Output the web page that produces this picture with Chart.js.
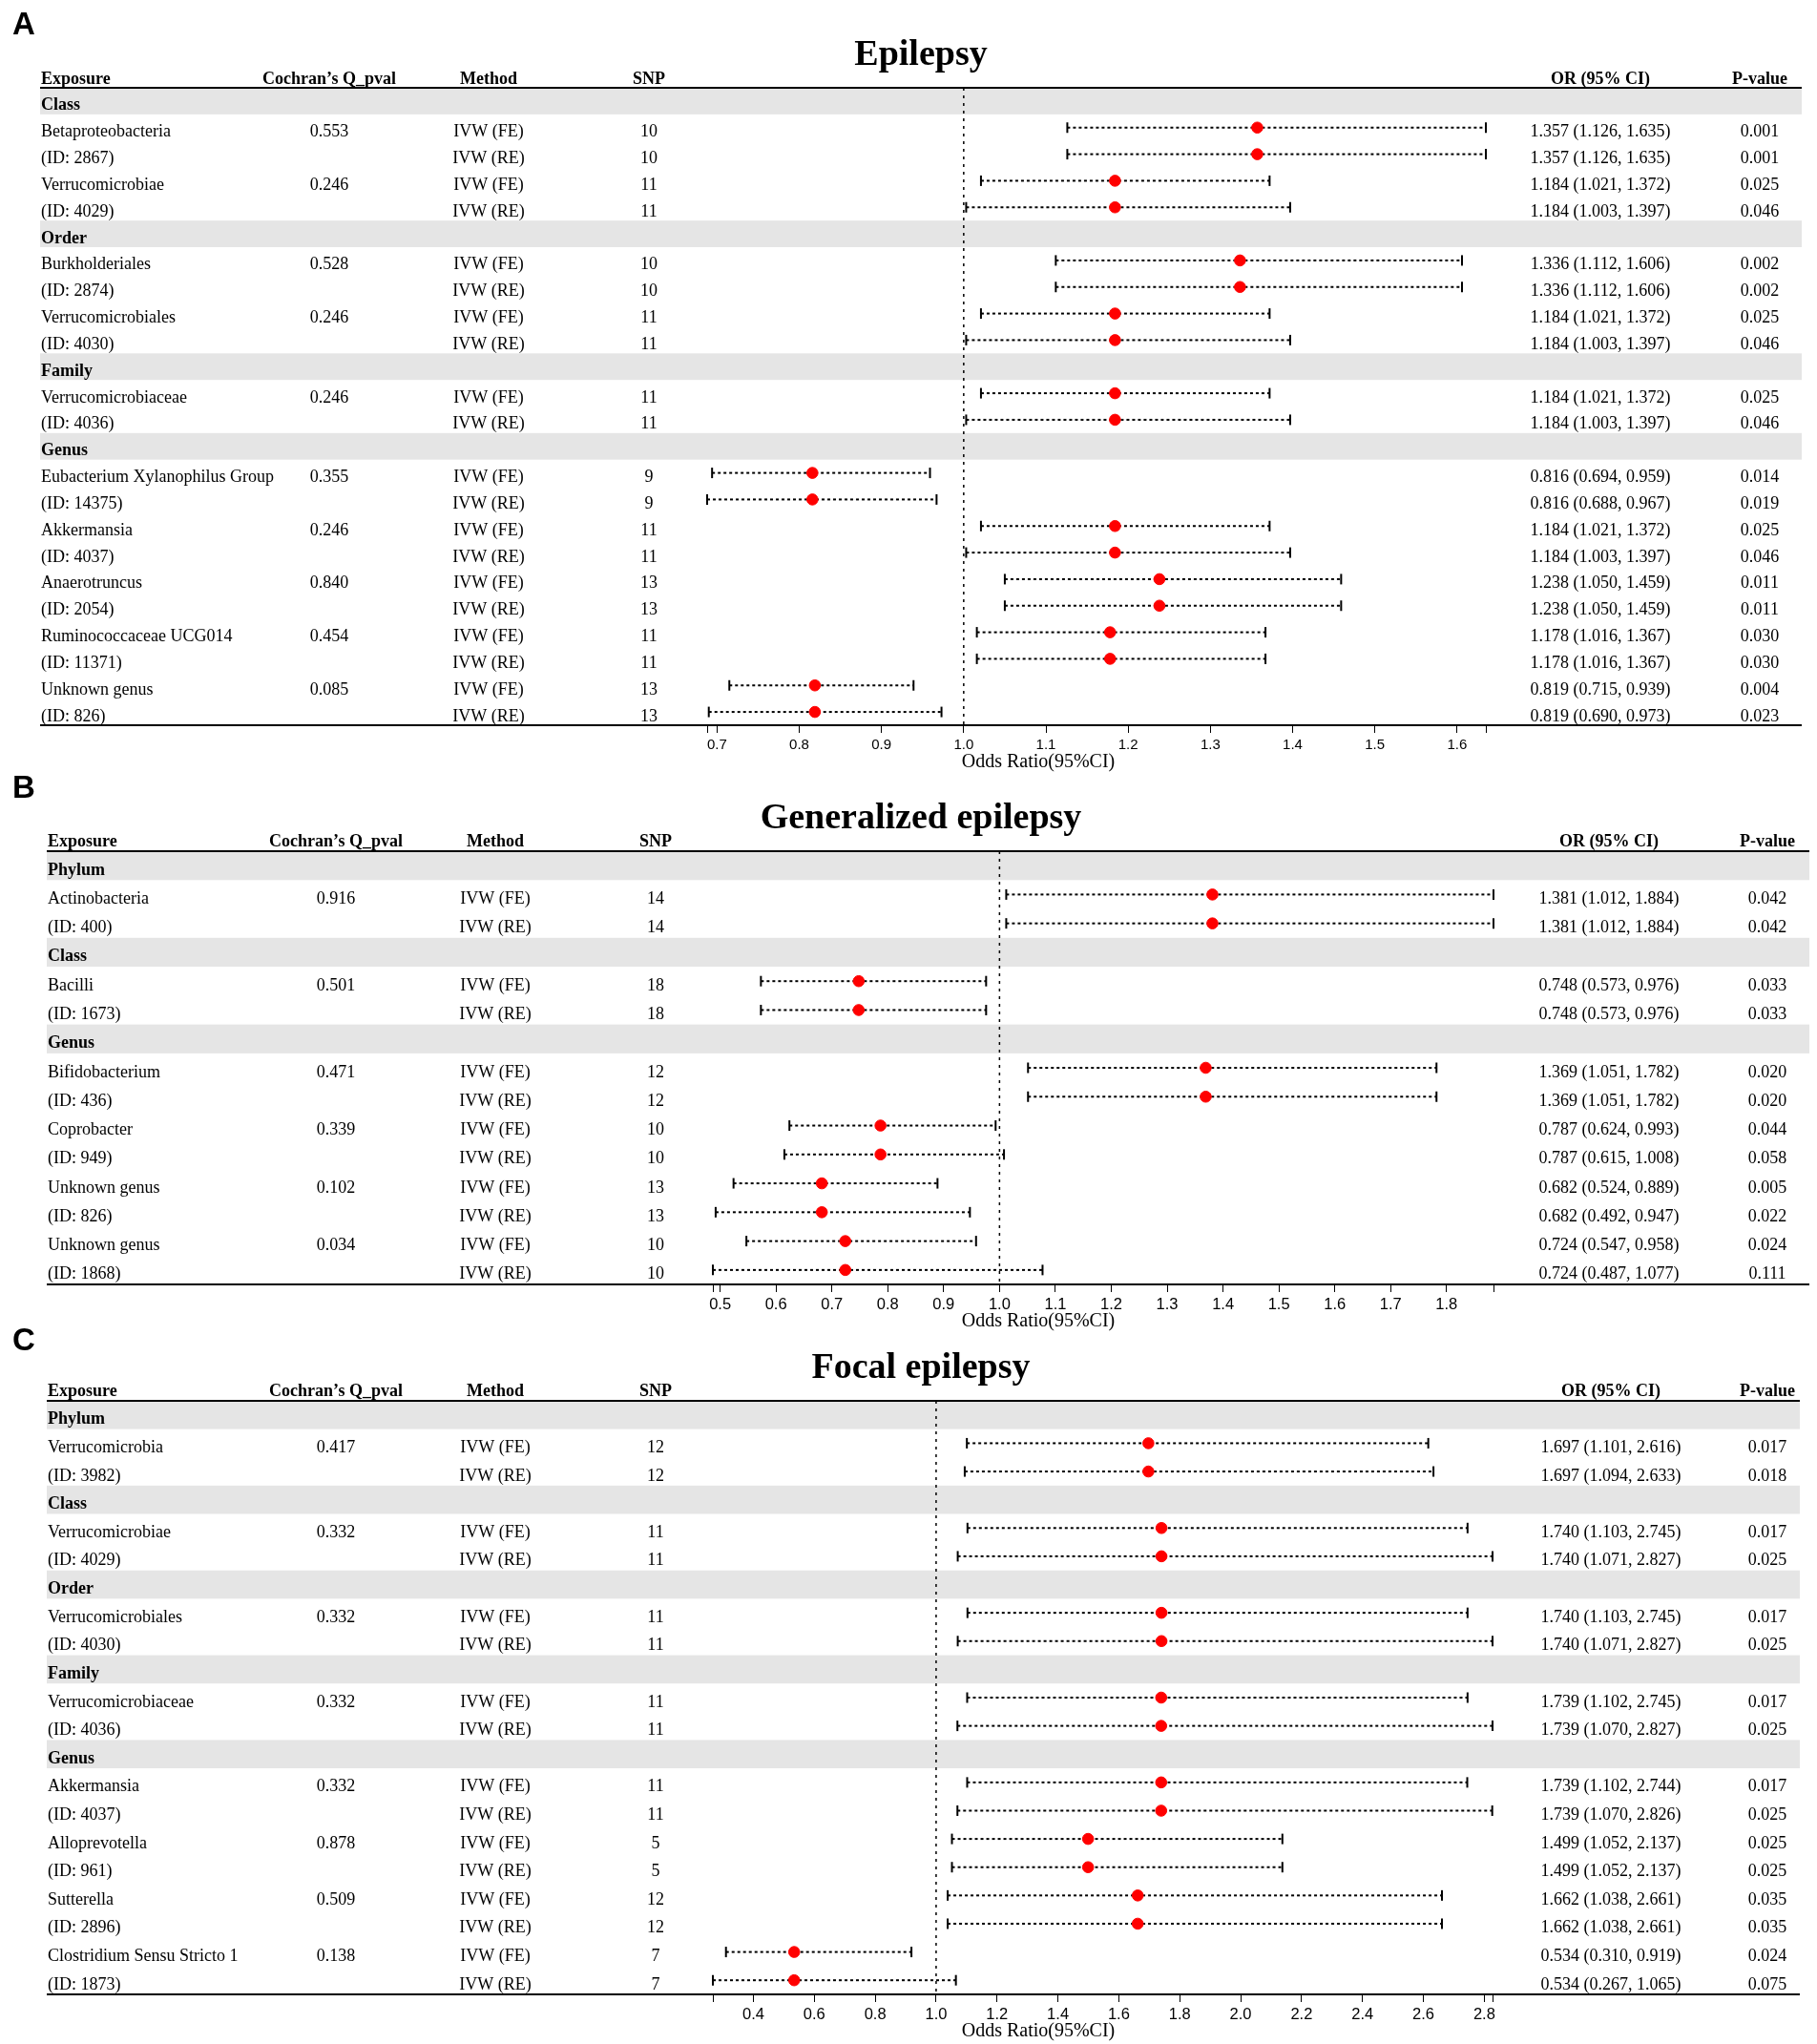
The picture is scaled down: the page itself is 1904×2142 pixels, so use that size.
<!DOCTYPE html>
<html>
<head>
<meta charset="utf-8">
<script src="https://cdn.jsdelivr.net/npm/chart.js@4.4.1/dist/chart.umd.min.js"></script>
<style>
html, body { margin: 0; padding: 0; background: #fff; }
body { width: 1904px; height: 2142px; position: relative; overflow: hidden; }
.panel { position: absolute; left: 0; }
</style>
</head>
<body>
<div class="panel" style="top:0px"><canvas id="epi" width="1904" height="810"></canvas></div>
<div class="panel" style="top:790px"><canvas id="gen" width="1904" height="610"></canvas></div>
<div class="panel" style="top:1370px"><canvas id="foc" width="1904" height="772"></canvas></div>
<script>
// ---- A: Epilepsy ----
const epiExposure = ['Class', 'Betaproteobacteria', '(ID: 2867)', 'Verrucomicrobiae', '(ID: 4029)',
    'Order', 'Burkholderiales', '(ID: 2874)', 'Verrucomicrobiales', '(ID: 4030)',
    'Family', 'Verrucomicrobiaceae', '(ID: 4036)',
    'Genus', 'Eubacterium Xylanophilus Group', '(ID: 14375)', 'Akkermansia', '(ID: 4037)',
    'Anaerotruncus', '(ID: 2054)', 'Ruminococcaceae UCG014', '(ID: 11371)', 'Unknown genus', '(ID: 826)'];
const epiQ = ['', '0.553', '', '0.246', '', '', '0.528', '', '0.246', '', '', '0.246', '',
    '', '0.355', '', '0.246', '', '0.840', '', '0.454', '', '0.085', ''];
const epiMethod = ['', 'IVW (FE)', 'IVW (RE)', 'IVW (FE)', 'IVW (RE)', '', 'IVW (FE)', 'IVW (RE)', 'IVW (FE)', 'IVW (RE)',
    '', 'IVW (FE)', 'IVW (RE)', '', 'IVW (FE)', 'IVW (RE)', 'IVW (FE)', 'IVW (RE)', 'IVW (FE)', 'IVW (RE)',
    'IVW (FE)', 'IVW (RE)', 'IVW (FE)', 'IVW (RE)'];
const epiSnp = ['', '10', '10', '11', '11', '', '10', '10', '11', '11', '', '11', '11',
    '', '9', '9', '11', '11', '13', '13', '11', '11', '13', '13'];
const epiOR = [null, 1.357, 1.357, 1.184, 1.184, null, 1.336, 1.336, 1.184, 1.184, null, 1.184, 1.184,
    null, 0.816, 0.816, 1.184, 1.184, 1.238, 1.238, 1.178, 1.178, 0.819, 0.819];
const epiLow = [null, 1.126, 1.126, 1.021, 1.003, null, 1.112, 1.112, 1.021, 1.003, null, 1.021, 1.003,
    null, 0.694, 0.688, 1.021, 1.003, 1.050, 1.050, 1.016, 1.016, 0.715, 0.690];
const epiHigh = [null, 1.635, 1.635, 1.372, 1.397, null, 1.606, 1.606, 1.372, 1.397, null, 1.372, 1.397,
    null, 0.959, 0.967, 1.372, 1.397, 1.459, 1.459, 1.367, 1.367, 0.939, 0.973];
const epiP = ['', '0.001', '0.001', '0.025', '0.046', '', '0.002', '0.002', '0.025', '0.046', '', '0.025', '0.046',
    '', '0.014', '0.019', '0.025', '0.046', '0.011', '0.011', '0.030', '0.030', '0.004', '0.023'];
const epiTicks = [0.7, 0.8, 0.9, 1.0, 1.1, 1.2, 1.3, 1.4, 1.5, 1.6];

// ---- B: Generalized epilepsy ----
const genExposure = ['Phylum', 'Actinobacteria', '(ID: 400)', 'Class', 'Bacilli', '(ID: 1673)',
    'Genus', 'Bifidobacterium', '(ID: 436)', 'Coprobacter', '(ID: 949)', 'Unknown genus', '(ID: 826)',
    'Unknown genus', '(ID: 1868)'];
const genQ = ['', '0.916', '', '', '0.501', '', '', '0.471', '', '0.339', '', '0.102', '', '0.034', ''];
const genMethod = ['', 'IVW (FE)', 'IVW (RE)', '', 'IVW (FE)', 'IVW (RE)', '', 'IVW (FE)', 'IVW (RE)',
    'IVW (FE)', 'IVW (RE)', 'IVW (FE)', 'IVW (RE)', 'IVW (FE)', 'IVW (RE)'];
const genSnp = ['', '14', '14', '', '18', '18', '', '12', '12', '10', '10', '13', '13', '10', '10'];
const genOR = [null, 1.381, 1.381, null, 0.748, 0.748, null, 1.369, 1.369, 0.787, 0.787, 0.682, 0.682, 0.724, 0.724];
const genLow = [null, 1.012, 1.012, null, 0.573, 0.573, null, 1.051, 1.051, 0.624, 0.615, 0.524, 0.492, 0.547, 0.487];
const genHigh = [null, 1.884, 1.884, null, 0.976, 0.976, null, 1.782, 1.782, 0.993, 1.008, 0.889, 0.947, 0.958, 1.077];
const genP = ['', '0.042', '0.042', '', '0.033', '0.033', '', '0.020', '0.020', '0.044', '0.058', '0.005', '0.022', '0.024', '0.111'];
const genTicks = [0.5, 0.6, 0.7, 0.8, 0.9, 1.0, 1.1, 1.2, 1.3, 1.4, 1.5, 1.6, 1.7, 1.8];

// ---- C: Focal epilepsy ----
const focExposure = ['Phylum', 'Verrucomicrobia', '(ID: 3982)', 'Class', 'Verrucomicrobiae', '(ID: 4029)',
    'Order', 'Verrucomicrobiales', '(ID: 4030)', 'Family', 'Verrucomicrobiaceae', '(ID: 4036)',
    'Genus', 'Akkermansia', '(ID: 4037)', 'Alloprevotella', '(ID: 961)', 'Sutterella', '(ID: 2896)',
    'Clostridium Sensu Stricto 1', '(ID: 1873)'];
const focQ = ['', '0.417', '', '', '0.332', '', '', '0.332', '', '', '0.332', '', '', '0.332', '',
    '0.878', '', '0.509', '', '0.138', ''];
const focMethod = ['', 'IVW (FE)', 'IVW (RE)', '', 'IVW (FE)', 'IVW (RE)', '', 'IVW (FE)', 'IVW (RE)',
    '', 'IVW (FE)', 'IVW (RE)', '', 'IVW (FE)', 'IVW (RE)', 'IVW (FE)', 'IVW (RE)', 'IVW (FE)', 'IVW (RE)',
    'IVW (FE)', 'IVW (RE)'];
const focSnp = ['', '12', '12', '', '11', '11', '', '11', '11', '', '11', '11', '', '11', '11', '5', '5', '12', '12', '7', '7'];
const focOR = [null, 1.697, 1.697, null, 1.740, 1.740, null, 1.740, 1.740, null, 1.739, 1.739,
    null, 1.739, 1.739, 1.499, 1.499, 1.662, 1.662, 0.534, 0.534];
const focLow = [null, 1.101, 1.094, null, 1.103, 1.071, null, 1.103, 1.071, null, 1.102, 1.070,
    null, 1.102, 1.070, 1.052, 1.052, 1.038, 1.038, 0.310, 0.267];
const focHigh = [null, 2.616, 2.633, null, 2.745, 2.827, null, 2.745, 2.827, null, 2.745, 2.827,
    null, 2.744, 2.826, 2.137, 2.137, 2.661, 2.661, 0.919, 1.065];
const focP = ['', '0.017', '0.018', '', '0.017', '0.025', '', '0.017', '0.025', '', '0.017', '0.025',
    '', '0.017', '0.025', '0.025', '0.025', '0.035', '0.035', '0.024', '0.075'];
const focTicks = [0.4, 0.6, 0.8, 1.0, 1.2, 1.4, 1.6, 1.8, 2.0, 2.2, 2.4, 2.6, 2.8];

const SERIF = '"Liberation Serif", "Times New Roman", serif';
const SANS = '"Liberation Sans", Arial, sans-serif';

// layout of each panel (canvas coordinates)
const PANELS = {
    epi: { letter: 'A', title: 'Epilepsy', height: 810, ruleTop: 92, ruleBottom: 760, plotLeft: 741, plotRight: 1557,
        tableLeft: 42, tableRight: 1888, letterY: 36, headShift: 4, tickSize: 15,
        col: { exp: 43, q: 345, method: 512, snp: 680, or: 1677, p: 1844 },
        exposure: epiExposure, q: epiQ, method: epiMethod, snp: epiSnp, or: epiOR, low: epiLow, high: epiHigh, p: epiP, ticks: epiTicks },
    gen: { letter: 'B', title: 'Generalized epilepsy', height: 610, ruleTop: 102, ruleBottom: 556, plotLeft: 747, plotRight: 1565,
        tableLeft: 49, tableRight: 1896, letterY: 46, headShift: 5, tickSize: 16.5,
        col: { exp: 50, q: 352, method: 519, snp: 687, or: 1686, p: 1852 },
        exposure: genExposure, q: genQ, method: genMethod, snp: genSnp, or: genOR, low: genLow, high: genHigh, p: genP, ticks: genTicks },
    foc: { letter: 'C', title: 'Focal epilepsy', height: 772, ruleTop: 98, ruleBottom: 720, plotLeft: 747, plotRight: 1564,
        tableLeft: 49, tableRight: 1886, letterY: 45, headShift: 5, tickSize: 16.5,
        col: { exp: 50, q: 352, method: 519, snp: 687, or: 1688, p: 1852 },
        exposure: focExposure, q: focQ, method: focMethod, snp: focSnp, or: focOR, low: focLow, high: focHigh, p: focP, ticks: focTicks }
};

// draws the table part (bands, text, rules) around the plot column
const forestTable = {
    id: 'forestTable',
    beforeDatasetsDraw(chart) {
        const P = PANELS[chart.canvas.id];
        const ys = chart.scales.y;
        const rowH = Math.abs(ys.getPixelForValue(1) - ys.getPixelForValue(0));
        const ctx = chart.ctx;
        ctx.save();
        ctx.fillStyle = '#e5e5e5';
        P.exposure.forEach((label, i) => {
            if (P.or[i] !== null) return;
            const y = ys.getPixelForValue(i);
            ctx.fillRect(P.tableLeft, y - rowH / 2, P.tableRight - P.tableLeft, rowH);
        });
        ctx.restore();
    },
    afterDraw(chart) {
        const P = PANELS[chart.canvas.id];
        const ys = chart.scales.y;
        const area = chart.chartArea;
        const ctx = chart.ctx;
        ctx.save();
        ctx.fillStyle = '#000';
        ctx.textBaseline = 'alphabetic';

        // panel letter and title
        ctx.font = 'bold 33px ' + SANS;
        ctx.textAlign = 'center';
        ctx.fillText(P.letter, 25, P.letterY);
        ctx.font = 'bold 38px ' + SERIF;
        ctx.fillText(P.title, 965, area.top - 24.5);

        // header
        const hy = area.top - P.headShift;
        ctx.font = 'bold 18px ' + SERIF;
        ctx.textAlign = 'left';
        ctx.fillText('Exposure', P.col.exp, hy);
        ctx.textAlign = 'center';
        ctx.fillText('Cochran\u2019s Q_pval', P.col.q, hy);
        ctx.fillText('Method', P.col.method, hy);
        ctx.fillText('SNP', P.col.snp, hy);
        ctx.fillText('OR (95% CI)', P.col.or, hy);
        ctx.fillText('P-value', P.col.p, hy);

        // rows
        P.exposure.forEach((label, i) => {
            const y = ys.getPixelForValue(i) + 9.5;
            if (P.or[i] === null) {
                ctx.font = 'bold 18px ' + SERIF;
                ctx.textAlign = 'left';
                ctx.fillText(label, P.col.exp, y);
                return;
            }
            ctx.font = '18px ' + SERIF;
            ctx.textAlign = 'left';
            ctx.fillText(label, P.col.exp, y);
            ctx.textAlign = 'center';
            ctx.fillText(P.q[i], P.col.q, y);
            ctx.fillText(P.method[i], P.col.method, y);
            ctx.fillText(P.snp[i], P.col.snp, y);
            const orText = P.or[i].toFixed(3) + ' (' + P.low[i].toFixed(3) + ', ' + P.high[i].toFixed(3) + ')';
            ctx.fillText(orText, P.col.or, y);
            ctx.fillText(P.p[i], P.col.p, y);
        });

        // rules
        ctx.strokeStyle = '#000';
        ctx.lineWidth = 2;
        ctx.beginPath();
        ctx.moveTo(P.tableLeft, area.top);
        ctx.lineTo(P.tableRight, area.top);
        ctx.moveTo(P.tableLeft, area.bottom);
        ctx.lineTo(P.tableRight, area.bottom);
        ctx.stroke();

        // x axis title
        ctx.font = '20px ' + SERIF;
        ctx.textAlign = 'center';
        ctx.fillText('Odds Ratio(95%CI)', 1088, area.bottom + 43.5);
        ctx.restore();
    }
};

function makeForest(id) {
    const P = PANELS[id];
    const n = P.exposure.length;
    const lows = P.low.filter(v => v !== null);
    const highs = P.high.filter(v => v !== null);
    const xmin = Math.min(...lows);
    const xmax = Math.max(...highs);

    const datasets = [];
    // reference line at OR = 1
    datasets.push({
        data: [{ x: 1, y: -0.5 }, { x: 1, y: n - 0.5 }],
        showLine: true, borderColor: '#000', borderWidth: 1.5, borderDash: [3, 5],
        pointRadius: 0, clip: false, order: 3
    });
    // confidence intervals
    P.or.forEach((v, i) => {
        if (v === null) return;
        datasets.push({
            data: [{ x: P.low[i], y: i }, { x: P.high[i], y: i }],
            showLine: true, borderColor: '#000', borderWidth: 2, borderDash: [3, 3],
            pointStyle: 'line', pointRotation: 90, pointRadius: 5.5,
            pointBorderColor: '#000', pointBorderWidth: 2, clip: false, order: 2
        });
    });
    // point estimates
    datasets.push({
        data: P.or.map((v, i) => v === null ? null : { x: v, y: i }).filter(d => d !== null),
        pointStyle: 'circle', pointRadius: 5.8, pointBackgroundColor: '#ff0000',
        pointBorderColor: '#ff0000', pointBorderWidth: 1, clip: false, order: 1
    });

    new Chart(document.getElementById(id), {
        type: 'scatter',
        data: { datasets: datasets },
        plugins: [forestTable],
        options: {
            responsive: false,
            animation: false,
            events: [],
            layout: {
                padding: { left: P.plotLeft, right: 1904 - P.plotRight, top: P.ruleTop, bottom: P.height - P.ruleBottom - 30 }
            },
            plugins: { legend: { display: false }, tooltip: { enabled: false } },
            scales: {
                x: {
                    type: 'linear', position: 'bottom', min: xmin, max: xmax,
                    border: { display: false },
                    grid: { drawOnChartArea: false, drawTicks: true, tickLength: 8, color: '#000', lineWidth: 1 },
                    ticks: {
                        autoSkip: false, maxRotation: 0, color: '#000', padding: 4,
                        font: { family: SANS, size: P.tickSize },
                        callback: function(value) {
                            return P.ticks.includes(value) ? value.toFixed(1) : '';
                        }
                    },
                    afterBuildTicks: function(scale) {
                        scale.ticks = [xmin].concat(P.ticks, [xmax]).map(v => ({ value: v }));
                    },
                    afterFit: function(scale) {
                        scale.height = 30;
                    }
                },
                y: { type: 'linear', display: false, reverse: true, min: -0.5, max: n - 0.5 }
            }
        }
    });
}

makeForest('epi');
makeForest('gen');
makeForest('foc');
</script>
</body>
</html>
